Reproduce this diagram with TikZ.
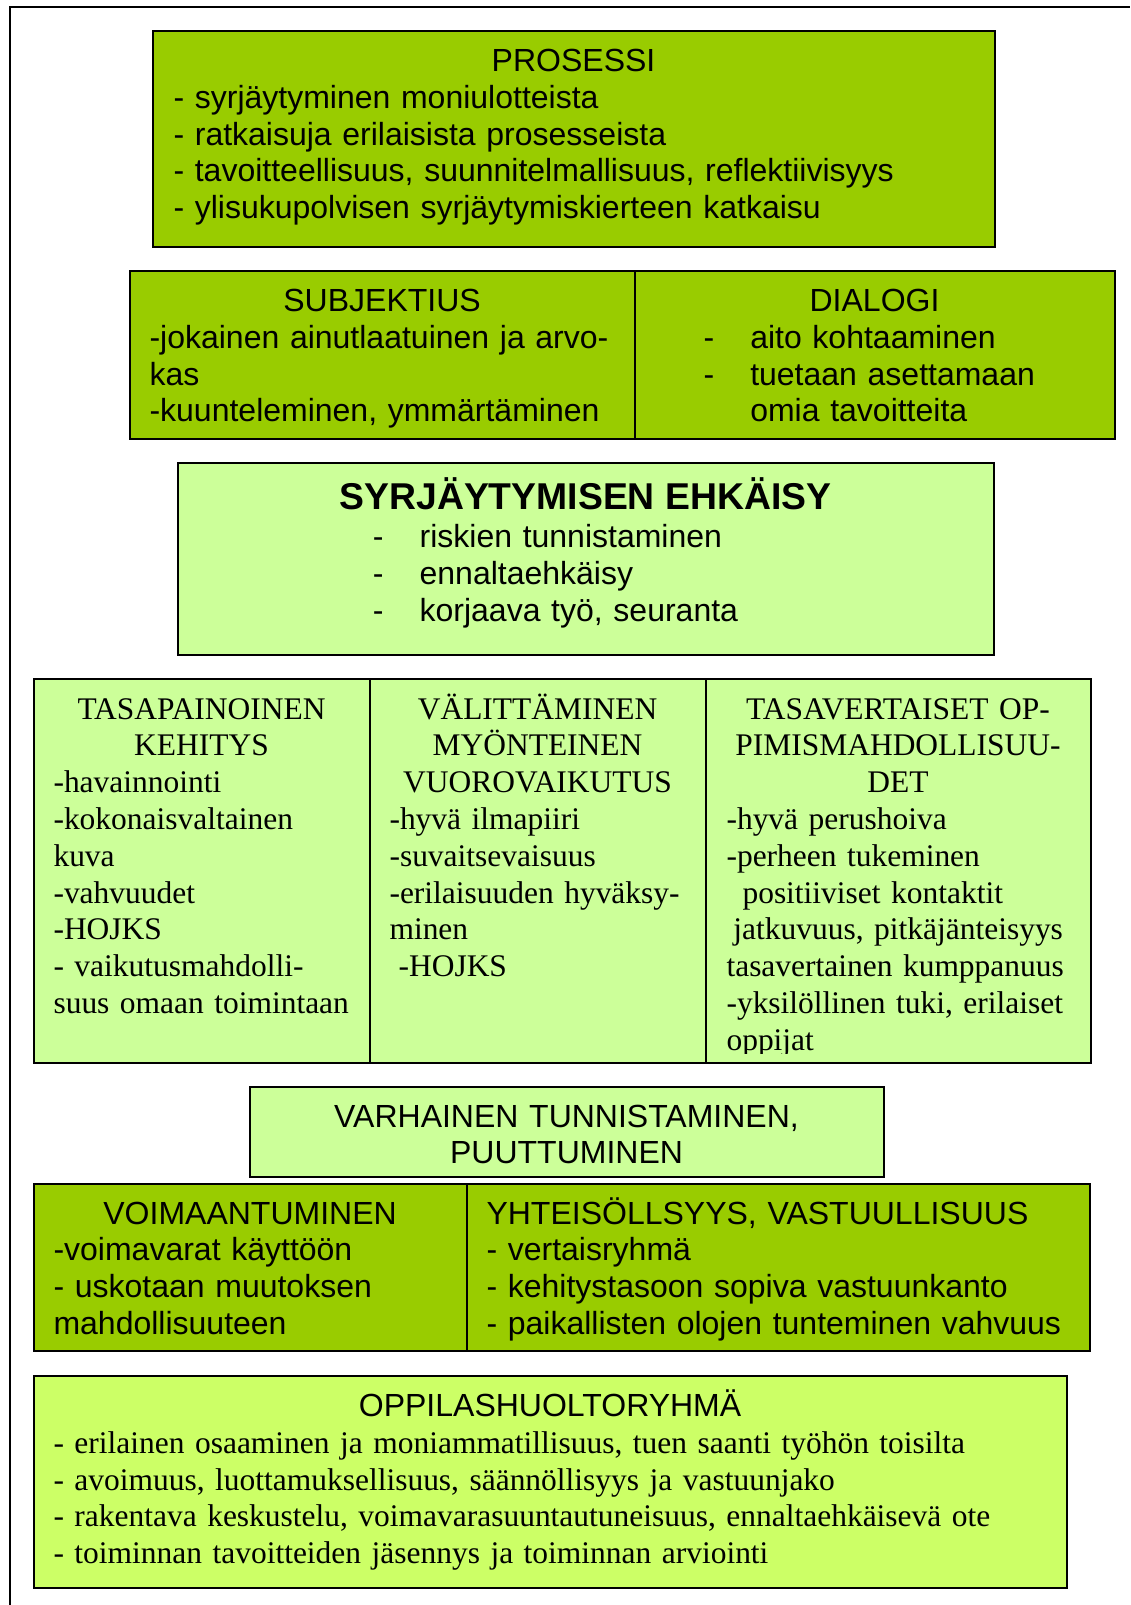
\documentclass[tikz,border=0pt]{standalone}
\usepackage{fontspec}
\setmainfont{Liberation Serif}
\setsansfont{Liberation Sans}
\usetikzlibrary{positioning,fit}

\definecolor{darkgreen}{HTML}{99CC00}
\definecolor{lightgreen}{HTML}{CCFF99}
\definecolor{yellowgreen}{HTML}{CCFF66}

\newcommand{\head}[1]{{\centering #1\par}}
\newcommand{\dashitem}[1]{\makebox[17.5pt][l]{-}#1}

\begin{document}
\begin{tikzpicture}[
  x=0.375pt, y=-0.375pt,
  box/.style={draw, line width=0.75pt, inner sep=0pt},
  txt/.style={anchor=base west, inner sep=0pt, align=left},
  sans/.style={txt, font=\fontsize{12}{13.8}\selectfont\sffamily},
  serif/.style={txt, font=\fontsize{11.8}{13.8}\selectfont\rmfamily}
]
  \useasboundingbox (0,0) rectangle (1130,1605);
  \draw[line width=0.75pt] (10,1605) |- (1130,7);

  \node[box, fill=darkgreen, fit={(153,31) (995,247)}] (prosessi) {};
  \node[sans, text width=300pt] (prosessiTxt) at ([shift={(21,41.5)}]prosessi.north west)
    {\head{PROSESSI}
     - syrjäytyminen moniulotteista\\
     - ratkaisuja erilaisista prosesseista\\
     - tavoitteellisuus, suunnitelmallisuus, reflektiivisyys\\
     - ylisukupolvisen syrjäytymiskierteen katkaisu};

  \node[box, fill=darkgreen, fit={(130,271) (635,439)}] (subjektius) {};
  \node[box, fill=darkgreen, fit={(635,271) (1115,439)}] (dialogi) {};
  \node[sans, text width=174.4pt] (subjektiusTxt) at ([shift={(20,41.5)}]subjektius.north west)
    {\head{SUBJEKTIUS}
     -jokainen ainutlaatuinen ja arvo-\\
     kas\\
     -kuunteleminen, ymmärtäminen};
  \node[sans, text width=165pt] (dialogiTxt) at ([shift={(20,41.5)}]dialogi.north west)
    {\head{DIALOGI}
     \hspace*{18.4pt}\dashitem{aito kohtaaminen}\\
     \hspace*{18.4pt}\dashitem{tuetaan asettamaan}\\
     \hspace*{35.9pt}omia tavoitteita};

  \node[box, fill=lightgreen, fit={(178,463) (994,655)}] (ehkaisy) {};
  \node[sans, text width=291pt] (ehkaisyTxt) at ([shift={(20,47)}]ehkaisy.north west)
    {{\centering\fontsize{14}{16.1}\selectfont\bfseries SYRJÄYTYMISEN EHKÄISY\par}
     \vspace{0.6pt}
     \hspace*{65.8pt}\dashitem{riskien tunnistaminen}\\
     \hspace*{65.8pt}\dashitem{ennaltaehkäisy}\\
     \hspace*{65.8pt}\dashitem{korjaava työ, seuranta}};

  \node[box, fill=lightgreen, fit={(34,679) (370,1063)}] (kehitys) {};
  \node[box, fill=lightgreen, fit={(370,679) (706,1063)}] (valittaminen) {};
  \node[box, fill=lightgreen, fit={(706,679) (1091,1063)}] (tasavertaiset) {};
  \node[serif, text width=111pt] (kehitysTxt) at ([shift={(20,41)}]kehitys.north west)
    {\head{TASAPAINOINEN\\KEHITYS}
     -havainnointi\\
     -kokonaisvaltainen\\
     kuva\\
     -vahvuudet\\
     -HOJKS\\
     - vaikutusmahdolli-\\
     \mbox{suus omaan toimintaan}};
  \node[serif, text width=111pt] (valittaminenTxt) at ([shift={(20,41)}]valittaminen.north west)
    {\head{VÄLITTÄMINEN\\MYÖNTEINEN\\VUOROVAIKUTUS}
     -hyvä ilmapiiri\\
     -suvaitsevaisuus\\
     -erilaisuuden hyväksy-\\
     minen\\
     \hspace*{3.4pt}-HOJKS};
  \begin{scope}
    \clip (706,679) rectangle (1091,1053.5);
    \node[serif, text width=128.6pt] (tasavertaisetTxt) at ([shift={(21,41)}]tasavertaiset.north west)
      {\head{TASAVERTAISET OP-\\PIMISMAHDOLLISUU-\\DET}
       -hyvä perushoiva\\
       -perheen tukeminen\\
       \hspace*{6pt}positiiviset kontaktit\\
       \mbox{\hspace*{2.6pt}jatkuvuus, pitkäjänteisyys}\\
       \mbox{tasavertainen kumppanuus}\\
       \mbox{-yksilöllinen tuki, erilaiset}\\
       oppijat};
  \end{scope}

  \node[box, fill=lightgreen, fit={(250,1087) (884,1177)}] (varhainen) {};
  \node[sans, text width=222.75pt] (varhainenTxt) at ([shift={(20,41)}]varhainen.north west)
    {\head{VARHAINEN TUNNISTAMINEN,\\PUUTTUMINEN}};

  \node[box, fill=darkgreen, fit={(34,1184) (467,1351)}] (voimaantuminen) {};
  \node[box, fill=darkgreen, fit={(467,1184) (1090,1351)}] (yhteisollisyys) {};
  \node[sans, text width=147.4pt] (voimaantuminenTxt) at ([shift={(20,41)}]voimaantuminen.north west)
    {\head{VOIMAANTUMINEN}
     -voimavarat käyttöön\\
     - uskotaan muutoksen\\
     mahdollisuuteen};
  \node[sans, text width=218.6pt] (yhteisollisyysTxt) at ([shift={(20,41)}]yhteisollisyys.north west)
    {YHTEISÖLLSYYS, VASTUULLISUUS\\
     - vertaisryhmä\\
     - kehitystasoon sopiva vastuunkanto\\
     - paikallisten olojen tunteminen vahvuus};

  \node[box, fill=yellowgreen, fit={(34,1376) (1067,1588)}] (oppilashuolto) {};
  \node[serif, text width=372.4pt] (oppilashuoltoTxt) at ([shift={(20,41.5)}]oppilashuolto.north west)
    {{\centering\sffamily\fontsize{12}{13.8}\selectfont OPPILASHUOLTORYHMÄ\par}
     - erilainen osaaminen ja moniammatillisuus, tuen saanti työhön toisilta\\
     - avoimuus, luottamuksellisuus, säännöllisyys ja vastuunjako\\
     - rakentava keskustelu, voimavarasuuntautuneisuus, ennaltaehkäisevä ote\\
     - toiminnan tavoitteiden jäsennys ja toiminnan arviointi};
\end{tikzpicture}
\end{document}
